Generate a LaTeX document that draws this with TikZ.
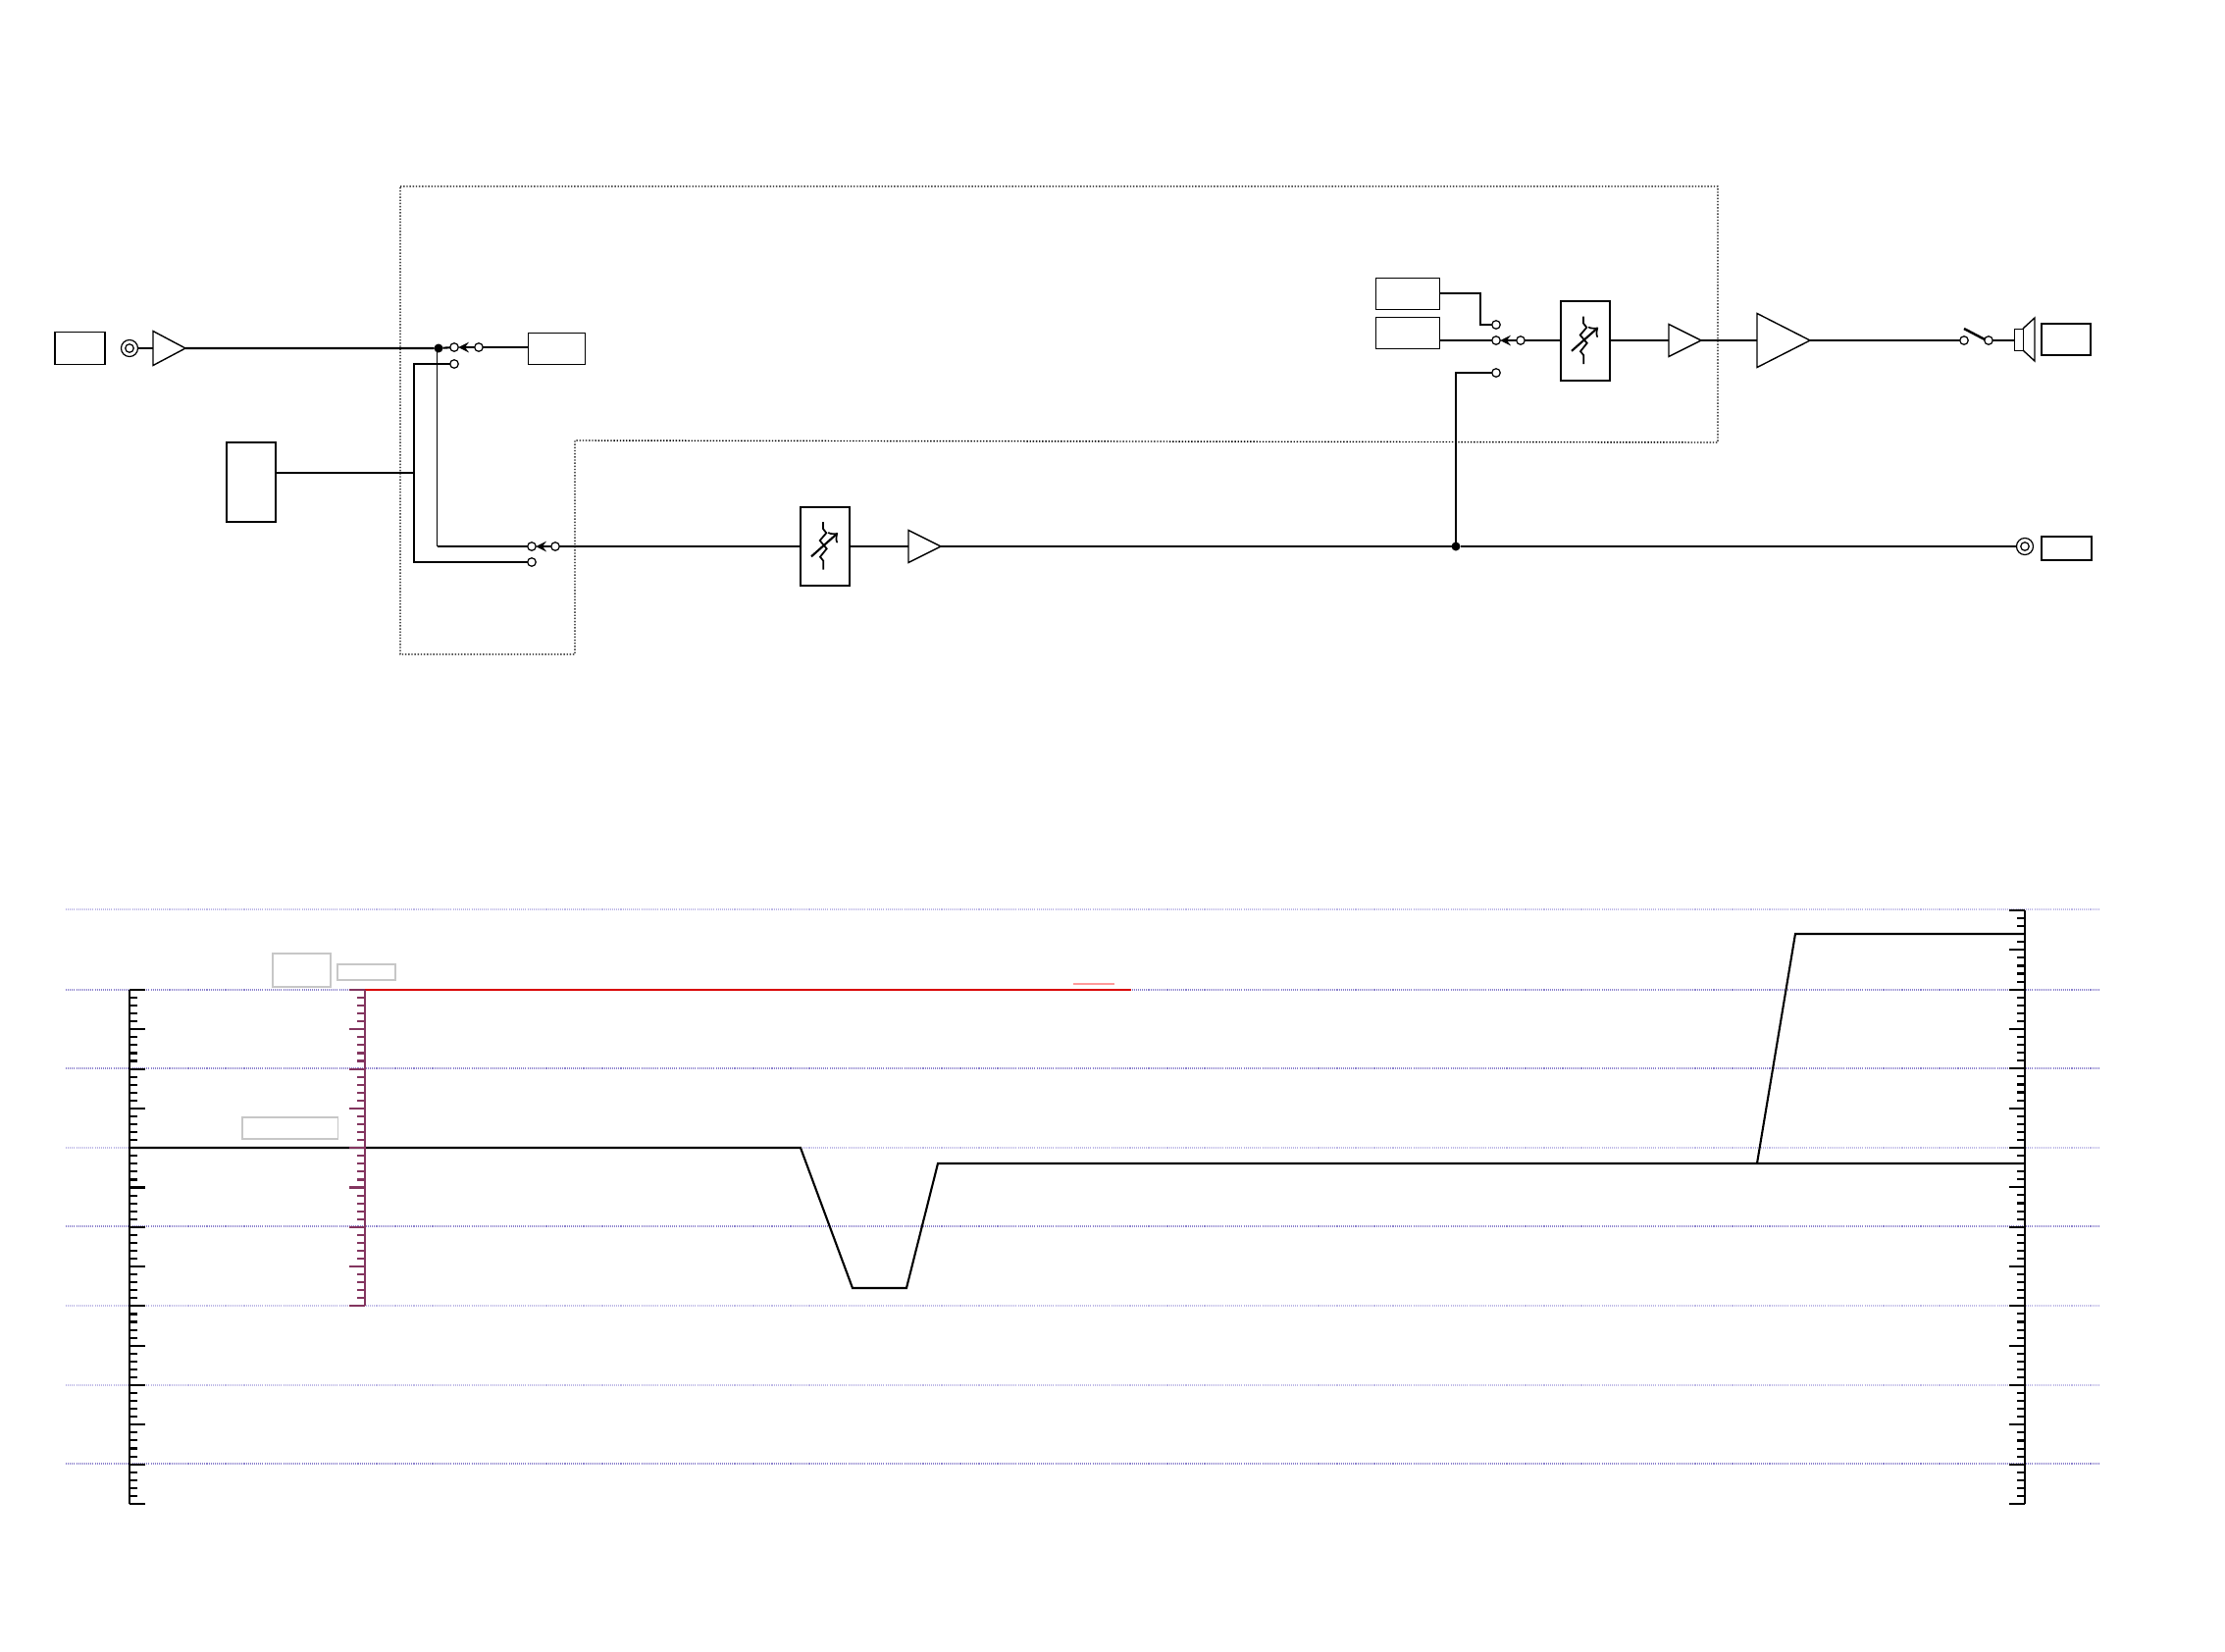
\documentclass[tikz,border=0pt]{standalone}
\usepackage{graphicx,pgfplots,tikz}
\usetikzlibrary{shapes.geometric}
\definecolor{scalepurple}{RGB}{131,53,95}
\definecolor{griddark}{RGB}{140,130,205}
\definecolor{gridlight}{RGB}{190,185,230}
\tikzset{
	sig/.style={line width=.6pt},
	thickbox/.style={draw,line width=.5pt,inner sep=0pt,outer sep=0pt},
	thinbox/.style={draw,line width=.25pt,inner sep=0pt,outer sep=0pt},
	greybox/.style={draw=black!22,line width=.3pt,inner sep=0pt,outer sep=0pt},
	amp/.style={draw,isosceles triangle,isosceles triangle stretches,line width=.4pt,inner sep=0pt,outer sep=0pt,fill=white,anchor=west},
	term/.style={draw,circle,line width=.35pt,minimum size=.085cm,inner sep=0pt,outer sep=0pt,fill=white},
	jackout/.style={draw,circle,line width=.35pt,minimum size=.17cm,inner sep=0pt,outer sep=0pt},
	jackin/.style={draw,circle,line width=.35pt,minimum size=.085cm,inner sep=0pt,outer sep=0pt},
	junc/.style={circle,fill=black,minimum size=.09cm,inner sep=0pt,outer sep=0pt},
	zone/.style={line width=.4pt,dash pattern=on .4pt off .5pt},
	gridline/.style={griddark,line width=.3pt,dash pattern=on .3pt off .3pt},
	gridfaint/.style={gridlight,line width=.35pt,dash pattern=on .3pt off .3pt},
	swarrow/.style={line width=.35pt,->,>=stealth},
	varres/.pic={
		\draw[line width=.5pt] (-2,-25) -- (-2,-18) -- (1.3,-13.7) -- (-5.3,-6) -- (1.7,2.3) -- (-5,10.7) -- (-1.7,14.7) -- (-1.7,23.7);
		\draw[line width=.6pt,->] (-14,10.3) -- (13,-13.7);
	}
}
\begin{document}
\begin{tikzpicture}[x=.01cm,y=-.01cm]
	\useasboundingbox (0,0) rectangle (2268,1684);
	% dotted zone
	\draw[zone] (408,190) -- (1751,190) -- (1751,451) -- (586,449) -- (586,667) -- (408,667) -- cycle;

	% upper chain
	\node[thickbox,minimum width=.51cm,minimum height=.33cm] (srcbox) at (81.5,355) {};
	\node[jackout] (jacka) at (132,355) {};
	\node[jackin] (jackb) at (132,355) {};
	\node[amp,minimum width=.35cm,minimum height=.33cm] (ampa) at (156,355) {};
	\node[junc] (juncin) at (447,355) {};
	\node[term] (swal) at (463,354) {};
	\node[term] (swar) at (488,354) {};
	\node[term] (swad) at (463,371) {};
	\node[thinbox,minimum width=.58cm,minimum height=.32cm] (tonebox) at (567,355) {};
	\node[thickbox,minimum width=.5cm,minimum height=.81cm] (auxbox) at (256,491.5) {};
	\coordinate (auxtap) at (422,482);
	\coordinate (busup) at (422,371);
	\coordinate (busdown) at (422,573);
	\coordinate (sensedown) at (445.5,557);
	\node[term] (swbl) at (542,557) {};
	\node[term] (swbr) at (566,557) {};
	\node[term] (swbd) at (542,573) {};
	\node[thickbox,minimum width=.5cm,minimum height=.8cm] (filta) at (841,557) {};
	\pic at (filta.center) {varres};
	\node[amp,minimum width=.33cm,minimum height=.33cm] (ampb) at (926,557) {};
	\node[junc] (juncout) at (1484,557) {};
	\node[jackout] (jackc) at (2064,557) {};
	\node[jackin] (jackd) at (2064,557) {};
	\node[thickbox,minimum width=.51cm,minimum height=.24cm] (linebox) at (2106.5,559) {};

	\draw[sig] (jacka) -- (ampa.west);
	\draw[sig] (ampa.east) -- (juncin) -- (swal);
	\draw[sig] (swar) -- (tonebox.west |- swar);
	\draw[swarrow] (swar) -- (swal);
	\draw[sig] (auxbox.east |- auxtap) -- (auxtap);
	\draw[sig] (swad) -- (busup) -- (busdown) -- (swbd);
	\draw[line width=.25pt] (sensedown |- juncin) -- (sensedown);
	\draw[sig] (sensedown) -- (swbl);
	\draw[swarrow] (swbr) -- (swbl);
	\draw[sig] (swbr) -- (filta.west);
	\draw[sig] (filta.east) -- (ampb.west);
	\draw[sig] (ampb.east) -- (juncout) -- (jackc);

	% right chain
	\node[thinbox,minimum width=.65cm,minimum height=.32cm] (boxd) at (1434.5,299) {};
	\node[thinbox,minimum width=.65cm,minimum height=.32cm] (boxe) at (1434.5,339) {};
	\node[term] (swcu) at (1525,331) {};
	\node[term] (swcl) at (1525,347) {};
	\node[term] (swcr) at (1550,347) {};
	\node[term] (swcd) at (1525,380) {};
	\coordinate (bendd) at (1509,299);
	\coordinate (bendr) at (1484,380);
	\node[thickbox,minimum width=.5cm,minimum height=.81cm] (filtb) at (1616,347.5) {};
	\pic at (filtb.center) {varres};
	\node[amp,minimum width=.33cm,minimum height=.33cm] (ampc) at (1701,347) {};
	\node[amp,minimum width=.55cm,minimum height=.54cm] (ampd) at (1791,347) {};
	\node[term] (swdl) at (2002,347) {};
	\node[term] (swdr) at (2027,347) {};
	\coordinate (blade) at (2002,335);
	\coordinate (bladeend) at (2023,346);
	\node[thinbox,minimum width=.09cm,minimum height=.22cm] (spk) at (2057.5,346) {};
	\coordinate (conetop) at (2074,324);
	\coordinate (conebot) at (2074,368);
	\node[thickbox,minimum width=.5cm,minimum height=.32cm] (spkbox) at (2106,346) {};

	\draw[sig] (boxd.east |- bendd) -- (bendd) |- (swcu);
	\draw[sig] (boxe.east |- swcl) -- (swcl);
	\draw[swarrow] (swcr) -- (swcl);
	\draw[sig] (swcr) -- (filtb.west |- swcr);
	\draw[sig] (juncout) -- (bendr) -- (swcd);
	\draw[sig] (filtb.east |- ampc.west) -- (ampc.west);
	\draw[sig] (ampc.east) -- (ampd.west);
	\draw[sig] (ampd.east) -- (swdl);
	\draw[line width=.7pt] (blade) -- (bladeend);
	\draw[sig] (swdr) -- (spk.west |- swdr);
	\draw[line width=.4pt] (spk.north east) -- (conetop) -- (conebot) -- (spk.south east);

	% level grid
	\foreach \y in {1009,1089,1250,1492} \draw[gridline] (67,\y) -- (2140,\y);
	\foreach \y in {927,1170,1331,1412} \draw[gridfaint] (67,\y) -- (2140,\y);

	% level curves
	\draw[sig] (132,1170) -- (816,1170) -- (869,1313) -- (924,1313) -- (956,1186) -- (2064,1186);
	\draw[sig] (1791,1186) -- (1830,952) -- (2064,952);
	\draw[red!85!black,line width=.6pt] (372,1009) -- (1153,1009);
	\draw[red!40,line width=.3pt] (1094,1003) -- (1136,1003);

	% scales
	\draw[sig] (132,1009) -- (132,1533);
	\foreach \i in {0,...,65} {
		\pgfmathsetmacro{\tl}{mod(\i,5)==0 ? 16 : 8}
		\draw[sig] (132,1009+\i*8.06) -- ++(\tl,0);
	}
	\draw[sig,scalepurple] (372,1009) -- (372,1331);
	\foreach \i in {0,...,40} {
		\pgfmathsetmacro{\tl}{mod(\i,5)==0 ? 16 : 8}
		\draw[sig,scalepurple] (372,1009+\i*8.06) -- ++(-\tl,0);
	}
	\draw[sig] (2064,928) -- (2064,1533);
	\foreach \i in {0,...,75} {
		\pgfmathsetmacro{\tl}{mod(\i,5)==0 ? 16 : 8}
		\draw[sig] (2064,928+\i*8.067) -- ++(-\tl,0);
	}

	% grey label boxes
	\node[greybox,minimum width=.59cm,minimum height=.34cm] (labela) at (307.5,989) {};
	\node[greybox,minimum width=.59cm,minimum height=.16cm] (labelb) at (373.5,991) {};
	\node[greybox,minimum width=.97cm,minimum height=.22cm] (labelc) at (295.5,1150) {};
\end{tikzpicture}
\end{document}
